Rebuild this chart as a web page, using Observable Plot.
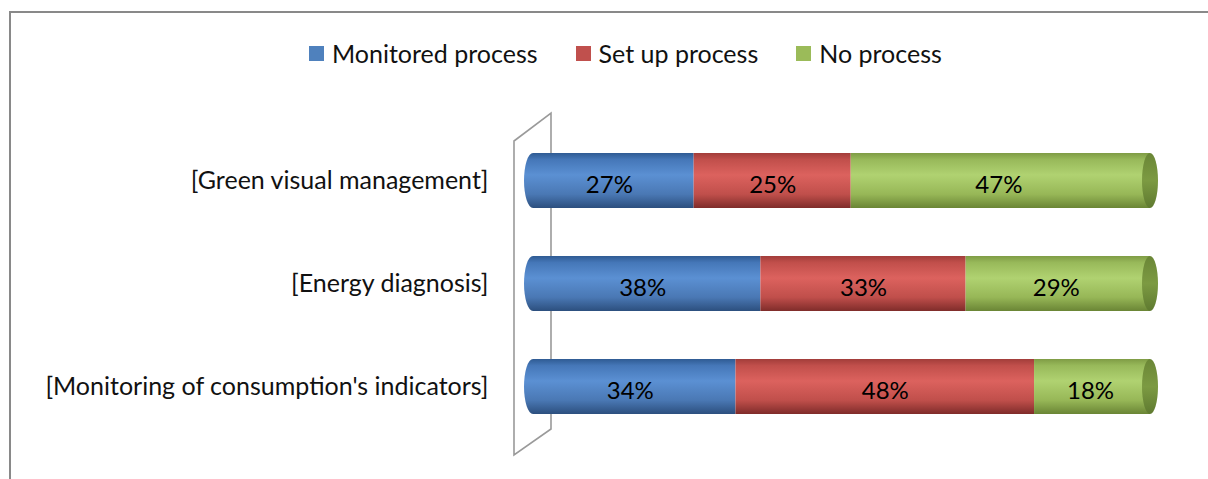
<!DOCTYPE html>
<html>
<head>
<meta charset="utf-8">
<script src="https://cdn.jsdelivr.net/npm/d3@7"></script>
<script src="https://cdn.jsdelivr.net/npm/@observablehq/plot@0.6"></script>
<style>
  html, body { margin: 0; padding: 0; background: #fff; }
  body { width: 1208px; height: 479px; position: relative; overflow: hidden; font-family: Lato, "Noto Sans", sans-serif; }
  #frame { position: absolute; left: 9px; top: 11px; width: 1300px; height: 600px; border-top: 2px solid #898989; border-left: 2px solid #898989; }
  #legend { position: absolute; left: 309px; top: 38px; height: 30px; display: flex; align-items: center; gap: 38px; font-size: 25px; color: #111; }
  #legend .item { display: flex; align-items: center; gap: 8px; }
  #legend .sw { width: 15px; height: 15px; display: inline-block; }
  #chart { position: absolute; left: 0; top: 100px; }
</style>
</head>
<body>
<div id="frame"></div>
<div id="legend"></div>
<div id="chart"></div>
<script>
const categories = ["[Green visual management]", "[Energy diagnosis]", "[Monitoring of consumption's indicators]"];
const seriesNames = ["Monitored process", "Set up process", "No process"];
const seriesColors = ["#4F81BD", "#C0504D", "#9BBB59"];
const monitored = [27, 38, 34];
const setUp = [25, 33, 48];
const noProcess = [47, 29, 18];

const seriesValues = [monitored, setUp, noProcess];
const data = [];
seriesNames.forEach((s, si) => {
  categories.forEach((c, ci) => {
    data.push({category: c, series: s, value: seriesValues[si][ci]});
  });
});

// legend
const legend = document.getElementById("legend");
seriesNames.forEach((s, i) => {
  const it = document.createElement("div");
  it.className = "item";
  const sw = document.createElement("span");
  sw.className = "sw";
  sw.style.background = seriesColors[i];
  const t = document.createElement("span");
  t.textContent = s;
  it.appendChild(sw); it.appendChild(t);
  legend.appendChild(it);
});

const gradIds = ["gBlue", "gRed", "gGreen"];
const CAP = 9;
const stackOpts = {x: "value", y: "category", fill: "series", z: "series", order: seriesNames, offset: "normalize"};

const plot = Plot.plot({
  width: 1208,
  height: 379,
  marginLeft: 524,
  marginRight: 62,
  marginTop: 21,
  marginBottom: 33,
  style: {fontFamily: "Lato, 'Noto Sans', sans-serif", background: "transparent"},
  x: {domain: [0, 1], axis: null},
  y: {domain: categories, paddingInner: 0.47, paddingOuter: 0.3, label: null},
  color: {domain: seriesNames, range: gradIds.map(id => `url(#${id})`)},
  marks: [
    Plot.axisY({tickSize: 0, tickPadding: 36, fontSize: 25, label: null, fill: "#111"}),
    Plot.barX(data, Plot.filter(d => d.series === seriesNames[0], Plot.stackX({...stackOpts, insetLeft: CAP}))),
    Plot.barX(data, Plot.filter(d => d.series === seriesNames[1], Plot.stackX(stackOpts))),
    Plot.barX(data, Plot.filter(d => d.series === seriesNames[2], Plot.stackX({...stackOpts, insetRight: -4}))),
    Plot.text(data, Plot.stackX({x: "value", y: "category", z: "series", order: seriesNames, offset: "normalize", text: d => d.value + "%", fontSize: 24, fill: "#000", dy: 4}))
  ]
});

document.getElementById("chart").appendChild(plot);

// 3D cylinder decorations
const svgNS = "http://www.w3.org/2000/svg";
const svg = plot.tagName.toLowerCase() === "svg" ? plot : plot.querySelector("svg");
const defs = document.createElementNS(svgNS, "defs");
const grads = [
  ["gBlue", [["0%", "#2f5b93"], ["12%", "#4577b8"], ["40%", "#5b90d3"], ["75%", "#4a78b4"], ["100%", "#2c4f7e"]]],
  ["gRed", [["0%", "#a23d3a"], ["12%", "#c14f4b"], ["40%", "#dc625e"], ["75%", "#c04f4b"], ["100%", "#7f2c2a"]]],
  ["gGreen", [["0%", "#7f9c45"], ["12%", "#98b95a"], ["40%", "#b0d271"], ["75%", "#97b757"], ["100%", "#6a8535"]]],
  ["gCap", [["0%", "#6a8636"], ["50%", "#7c9a42"], ["100%", "#5f7a30"]]]
];
grads.forEach(([id, stops]) => {
  const g = document.createElementNS(svgNS, "linearGradient");
  g.setAttribute("id", id);
  g.setAttribute("x1", "0"); g.setAttribute("y1", "0");
  g.setAttribute("x2", "0"); g.setAttribute("y2", "1");
  stops.forEach(([o, c]) => {
    const s = document.createElementNS(svgNS, "stop");
    s.setAttribute("offset", o); s.setAttribute("stop-color", c);
    g.appendChild(s);
  });
  defs.appendChild(g);
});
svg.insertBefore(defs, svg.firstChild);

const xs = plot.scale("x");
const ys = plot.scale("y");
const x0 = xs.apply(0), x1 = xs.apply(1);
const bw = ys.bandwidth;
const yTop = ys.apply(categories[0]);
const yBot = ys.apply(categories[categories.length - 1]) + bw;

// back wall (drawn behind bars)
const wall = document.createElementNS(svgNS, "path");
const wl = x0 - 10, wr = x0 + 27;
wall.setAttribute("d", `M${wl},${yTop - 12} L${wr},${yTop - 40} L${wr},${yBot + 15} L${wl},${yBot + 41} Z`);
wall.setAttribute("fill", "none");
wall.setAttribute("stroke", "#9a9a9a");
wall.setAttribute("stroke-width", "1.6");
svg.insertBefore(wall, defs.nextSibling);

// caps
const capLayer = document.createElementNS(svgNS, "g");
categories.forEach(c => {
  const yc = ys.apply(c) + bw / 2;
  const l = document.createElementNS(svgNS, "ellipse");
  l.setAttribute("cx", x0 + CAP); l.setAttribute("cy", yc);
  l.setAttribute("rx", CAP); l.setAttribute("ry", bw / 2);
  l.setAttribute("fill", "url(#gBlue)");
  capLayer.appendChild(l);
  const r = document.createElementNS(svgNS, "ellipse");
  r.setAttribute("cx", x1 + 4); r.setAttribute("cy", yc);
  r.setAttribute("rx", 8); r.setAttribute("ry", bw / 2);
  r.setAttribute("fill", "url(#gCap)");
  capLayer.appendChild(r);
});
const texts = svg.querySelectorAll('g[aria-label="text"]');
if (texts.length) svg.insertBefore(capLayer, texts[texts.length - 1]);
else svg.appendChild(capLayer);
</script>
</body>
</html>
